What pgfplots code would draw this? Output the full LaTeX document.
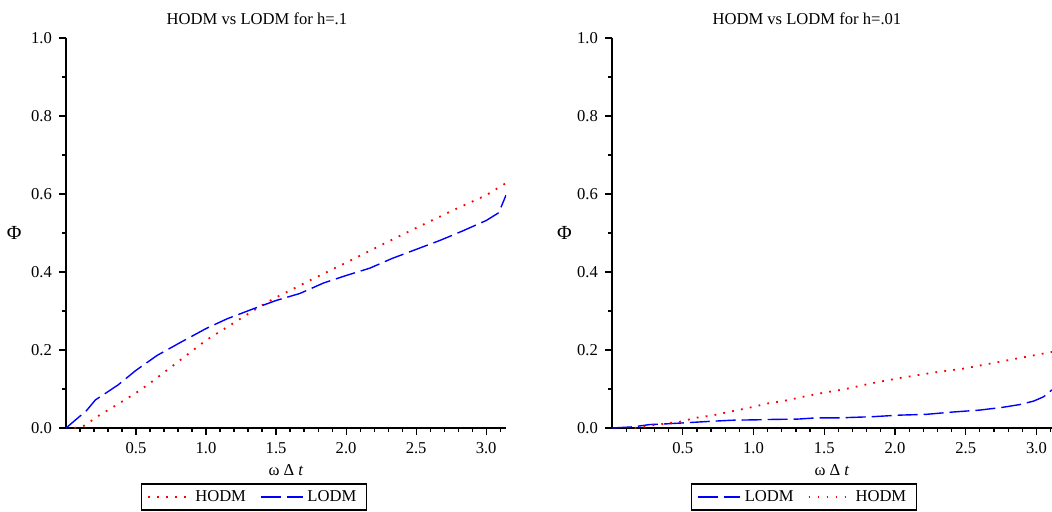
\documentclass[border=0pt]{standalone}
\usepackage{fontspec}
\setmainfont{Liberation Serif}
\usepackage{pgfplots}
\pgfplotsset{compat=1.18}
\newcommand{\fs}{\fontsize{8.3}{9.8}\selectfont}
\pgfplotsset{
  mapl/.style={
    scale only axis, width=220pt, height=195pt,
    axis x line*=bottom, axis y line*=left,
    axis line style={-, line width=0.8pt},
    ymin=0, ymax=1, xmin=0,
    xtick={0.5,1.0,1.5,2.0,2.5,3.0},
    minor xtick={0.1,0.2,0.3,0.4,0.6,0.7,0.8,0.9,1.1,1.2,1.3,1.4,1.6,1.7,1.8,1.9,2.1,2.2,2.3,2.4,2.6,2.7,2.8,2.9,3.1},
    ytick={0,0.2,0.4,0.6,0.8,1.0},
    minor ytick={0.1,0.3,0.5,0.7,0.9},
    tick align=outside,
    major tick length=3.5pt, minor tick length=2pt,
    tick style={black, line width=0.6pt},
    /pgf/number format/.cd, fixed, fixed zerofill, precision=1, assume math mode=true,
    /pgfplots/.cd,
    ticklabel style={font=\fs},
    label style={font=\fs},
    title style={font=\fs, anchor=center},
    xlabel={ω Δ \textit{t}},
    xlabel style={at={(axis description cs:0.5,-0.108)}, anchor=center},
    ylabel={\fontsize{10}{12}\selectfont Φ},
    ylabel style={rotate=-90, anchor=center},
    legend style={draw=black, line width=0.6pt, font=\fs, legend columns=2, anchor=center,
      inner xsep=3pt, inner ysep=1pt,
      /tikz/every even column/.append style={column sep=5pt}},
    legend image code/.code={\draw[#1] (0pt,0pt) -- (21pt,0pt);},
  },
  hodm/.style={red, line width=0.9pt, dash pattern=on 0.9pt off 3.6pt},
  lodm/.style={blue, line width=0.7pt, dash pattern=on 10pt off 3pt},
}
\begin{document}
\begin{tikzpicture}
\begin{axis}[mapl, xmax=3.1416, at={(0pt,0pt)},
  title={HODM vs LODM for h=.1},
  title style={at={(axis description cs:0.434,1.019)}},
  ylabel style={at={(axis description cs:-0.118,0.5)}},
  legend style={at={(axis description cs:0.427,-0.177)}}]
\addplot[hodm] coordinates {(0.06,0) (0.13,0.006) (0.24,0.033) (0.36,0.059) (0.5,0.09) (0.6,0.115) (0.8,0.17) (1.0,0.225) (1.2,0.27) (1.4,0.315) (1.5,0.335) (1.75,0.38) (2.0,0.424) (2.25,0.469) (2.5,0.513) (2.75,0.556) (3.0,0.597) (3.1416,0.628)};
\addlegendentry{HODM}
\addplot[lodm] coordinates {(0,0) (0.095,0.029) (0.14,0.042) (0.21,0.072) (0.37,0.11) (0.5,0.148) (0.65,0.186) (0.82,0.22) (1.0,0.255) (1.15,0.28) (1.34,0.306) (1.5,0.327) (1.67,0.345) (1.84,0.372) (2.0,0.391) (2.17,0.41) (2.33,0.435) (2.5,0.458) (2.67,0.481) (2.83,0.505) (3.0,0.532) (3.09,0.552) (3.1416,0.597)};
\addlegendentry{LODM}
\end{axis}
\begin{axis}[mapl, xmax=3.11, at={(273pt,0pt)},
  title={HODM vs LODM for h=.01},
  title style={at={(axis description cs:0.443,1.019)}},
  ylabel style={at={(axis description cs:-0.108,0.5)}},
  legend style={at={(axis description cs:0.436,-0.177)}}]
\addplot[lodm] coordinates {(0,0) (0.15,0.003) (0.27,0.009) (0.35,0.01) (0.5,0.013) (0.69,0.017) (0.85,0.02) (1.02,0.021) (1.13,0.022) (1.32,0.023) (1.44,0.026) (1.6,0.026) (1.84,0.029) (2.03,0.033) (2.22,0.035) (2.41,0.041) (2.6,0.046) (2.76,0.053) (2.88,0.06) (2.98,0.069) (3.05,0.08) (3.11,0.098)};
\addlegendentry{LODM}
\addplot[hodm] coordinates {(0.16,0) (0.22,0.003) (0.29,0.007) (0.41,0.013) (0.48,0.016) (0.59,0.026) (0.72,0.033) (0.85,0.043) (0.97,0.052) (1.1,0.063) (1.22,0.07) (1.35,0.08) (1.46,0.088) (1.65,0.1) (1.84,0.115) (2.03,0.128) (2.29,0.143) (2.48,0.152) (2.67,0.165) (2.86,0.178) (3.05,0.191) (3.11,0.195)};
\addlegendentry{HODM}
\end{axis}
\pgfresetboundingbox
\useasboundingbox (-33pt,-41.5pt) rectangle (493pt,214pt);
\end{tikzpicture}
\end{document}
